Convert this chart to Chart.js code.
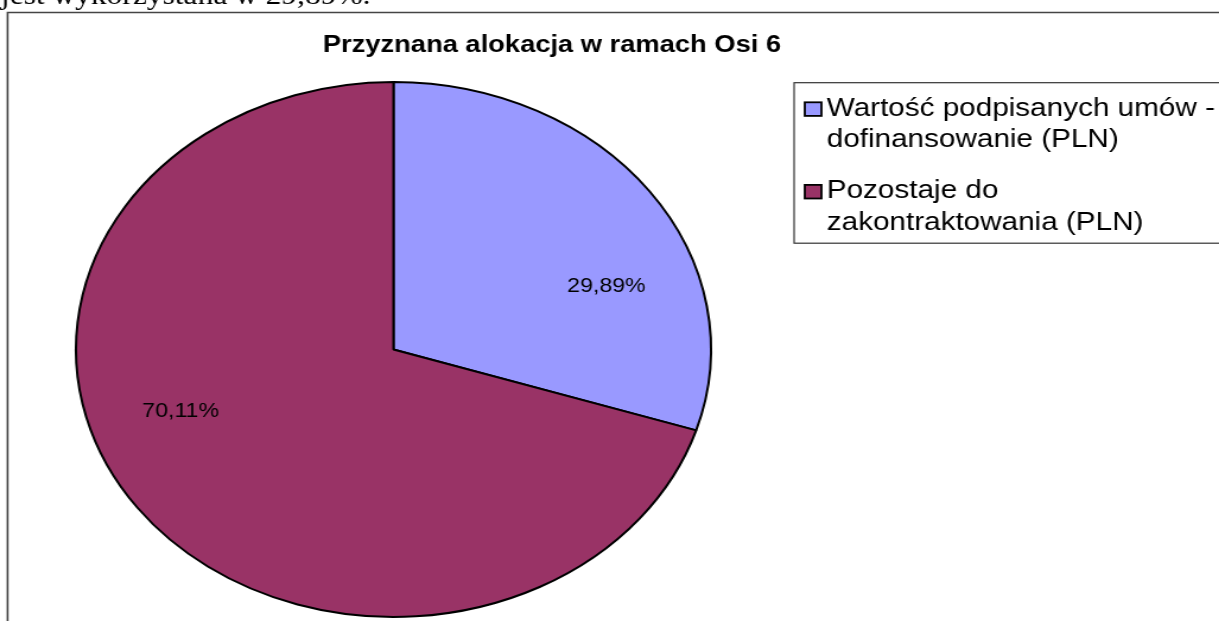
<!DOCTYPE html>
<html>
<head>
<meta charset="utf-8">
<script src="https://cdn.jsdelivr.net/npm/chart.js@4.4.1/dist/chart.umd.min.js"></script>
<style>
    html, body { margin: 0; padding: 0; background: #fff; overflow: hidden; }
    /* the whole picture is stretched sideways, so draw narrow and scale */
    #wrap { position: absolute; left: 0; top: 0; width: 1027px; height: 621px; transform: scaleX(1.187); transform-origin: 0 0; }
    canvas { display: block; }
</style>
</head>
<body>
<div id="wrap"><canvas id="myChart" width="1027" height="621"></canvas></div>
<script>
var pageText = "jest wykorzystana w 29,89%.";
var chartTitle = "Przyznana alokacja w ramach Osi 6";
var categories = [
    ["Wartość podpisanych umów -", "dofinansowanie (PLN)"],
    ["Pozostaje do", "zakontraktowania (PLN)"]
];
var shares = [29.89, 70.11];
var sliceColors = ["#9999ff", "#993366"];

var SANS = "'Liberation Sans', Arial, sans-serif";

function formatPct(v) {
    return v.toFixed(2).replace(".", ",") + "%";
}

var excelLook = {
    id: "excelLook",
    beforeDraw: function (chart) {
        var ctx = chart.ctx;
        ctx.save();
        ctx.fillStyle = "#fff";
        ctx.fillRect(0, 0, chart.width, chart.height);

        // document text above the chart, mostly cut off
        ctx.fillStyle = "#000";
        ctx.font = "26.5px 'Liberation Serif', 'Times New Roman', serif";
        ctx.textBaseline = "alphabetic";
        ctx.textAlign = "left";
        ctx.fillText(pageText, 0.8, 4);

        // chart frame
        ctx.strokeStyle = "#444";
        ctx.lineWidth = 1.6;
        ctx.beginPath();
        ctx.moveTo(6.4, chart.height + 2);
        ctx.lineTo(6.4, 12.5);
        ctx.lineTo(chart.width + 2, 12.5);
        ctx.stroke();
        ctx.restore();
    },
    afterDatasetsDraw: function (chart) {
        var ctx = chart.ctx;
        var arcs = chart.getDatasetMeta(0).data;
        var values = chart.data.datasets[0].data;
        ctx.save();
        ctx.fillStyle = "#000";
        ctx.font = "19.5px " + SANS;
        ctx.textAlign = "center";
        ctx.textBaseline = "middle";
        arcs.forEach(function (arc, i) {
            var p = arc.getProps(["x", "y", "startAngle", "endAngle", "outerRadius"], true);
            var mid = (p.startAngle + p.endAngle) / 2 + 17 * Math.PI / 180;
            var r = p.outerRadius * 0.71;
            ctx.fillText(formatPct(values[i]), p.x + Math.cos(mid) * r, p.y + Math.sin(mid) * r);
        });
        ctx.restore();
    },
    afterDraw: function (chart) {
        var ctx = chart.ctx;
        ctx.save();

        // title
        ctx.fillStyle = "#000";
        ctx.font = "bold 23px " + SANS;
        ctx.textAlign = "center";
        ctx.textBaseline = "alphabetic";
        ctx.fillText(chartTitle, 465, 51.7);

        // legend box
        ctx.strokeStyle = "#333";
        ctx.lineWidth = 1.2;
        ctx.strokeRect(669, 82.7, 400, 160.5);

        var itemTops = [115.7, 198.3];
        ctx.font = "25px " + SANS;
        ctx.textAlign = "left";
        chart.data.labels.forEach(function (lines, i) {
            var base = itemTops[i];
            ctx.fillStyle = sliceColors[i];
            ctx.fillRect(678, base - 13.4, 14, 13.6);
            ctx.strokeStyle = "#000";
            ctx.lineWidth = 1.8;
            ctx.strokeRect(678, base - 13.4, 14, 13.6);
            ctx.fillStyle = "#000";
            lines.forEach(function (line, j) {
                ctx.fillText(line, 696.5, base + j * 31.6);
            });
        });
        ctx.restore();
    }
};

document.addEventListener("DOMContentLoaded", function () {
    var ctx = document.getElementById("myChart").getContext("2d");

    var chart = new Chart(ctx, {
        type: "pie",
        data: {
            labels: categories,
            datasets: [
                {
                    data: shares,
                    backgroundColor: sliceColors,
                    borderColor: "#000",
                    borderWidth: 2,
                    hoverOffset: 0
                }
            ]
        },
        options: {
            responsive: false,
            devicePixelRatio: 1,
            animation: false,
            events: [],
            radius: 267.5,
            layout: {
                padding: { left: 60, top: 78, right: 424, bottom: 0 }
            },
            plugins: {
                legend: { display: false },
                title: { display: false },
                tooltip: { enabled: false }
            }
        },
        plugins: [excelLook]
    });
});
</script>
</body>
</html>
